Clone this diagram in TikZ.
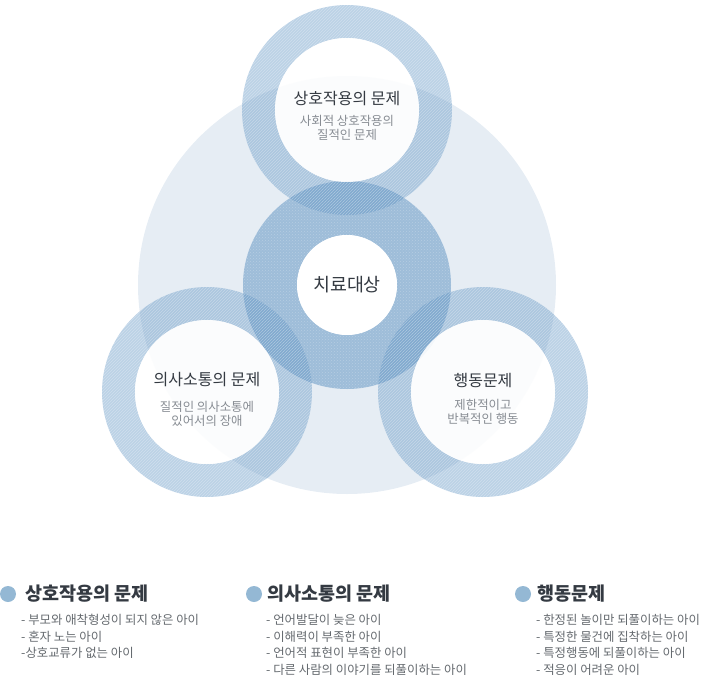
\documentclass[tikz,border=0pt]{standalone}
\usepackage{fontspec}
\setmainfont{Noto Sans CJK KR}
\usetikzlibrary{patterns}
\usetikzlibrary{positioning}

\definecolor{bgblue}{RGB}{230,237,244}
\definecolor{ringblue}{RGB}{88,142,192}
\definecolor{titlegray}{RGB}{52,58,66}
\definecolor{subgray}{RGB}{135,140,147}
\definecolor{itemgray}{RGB}{100,105,110}
\definecolor{dotblue}{RGB}{148,184,212}

\tikzset{
  ringfill/.style={fill=ringblue, fill opacity=0.4, even odd rule},
  hatch/.style={pattern=north east lines, pattern color=white, opacity=0.3, even odd rule},
  crosshatch/.style={pattern=crosshatch dots, pattern color=white, opacity=0.25, even odd rule},
  hole/.style={fill=white, fill opacity=0.88},
  ringtitle/.style={text=titlegray, font=\fontsize{16}{19}\selectfont, inner sep=0pt},
  ringsub/.style={text=subgray, font=\fontsize{12.4}{14.5}\selectfont, align=center, inner sep=0pt},
  legendtitle/.style={text=titlegray, font=\fontsize{18.5}{21}\selectfont\bfseries, anchor=west, inner sep=0pt},
  legenditems/.style={text=itemgray, font=\fontsize{12.4}{16.6}\selectfont, align=left, anchor=north west, inner sep=0pt},
  legenddot/.style={circle, fill=dotblue, minimum size=16pt, inner sep=0pt}
}

\begin{document}
\begin{tikzpicture}[x=1pt, y=-1pt]
    \useasboundingbox (0,0) rectangle (715,683);

    % Centres of the circles
    \coordinate (cbig) at (347,285);
    \coordinate (ctop) at (347,110);
    \coordinate (cleft) at (207,392);
    \coordinate (cright) at (483,392);

    % Background disc
    \fill[bgblue] (cbig) circle (209pt);

    % Rings
    \fill[ringfill, fill opacity=0.5] (cbig) circle (104pt) (cbig) circle (50pt);
    \fill[crosshatch] (cbig) circle (104pt) (cbig) circle (50pt);
    \foreach \c in {ctop, cleft, cright} {
      \fill[ringfill] (\c) circle (105pt) (\c) circle (72pt);
      \fill[hatch] (\c) circle (105pt) (\c) circle (72pt);
    }

    % Holes
    \fill[white] (cbig) circle (50pt);
    \foreach \c in {ctop, cleft, cright} {
      \fill[hole] (\c) circle (72pt);
    }

    % Texts in the rings
    \node[text=titlegray, font=\fontsize{18.4}{21}\selectfont, inner sep=0pt] (care) at (347,285) {치료대상};

    \node[ringtitle] (toptitle) at (347,99) {상호작용의 문제};
    \node[ringsub] (topsub) at (347,128) {사회적 상호작용의\\질적인 문제};

    \node[ringtitle] (lefttitle) at (207,380) {의사소통의 문제};
    \node[ringsub] (leftsub) at (207,414) {질적인 의사소통에\\있어서의 장애};

    \node[ringtitle] (righttitle) at (483,381) {행동문제};
    \node[ringsub] (rightsub) at (483,412) {제한적이고\\반복적인 행동};

    % Legend
    \node[legenddot] (dotA) at (8,594) {};
    \node[legendtitle] (legA) at (25,594) {상호작용의 문제};
    \node[legenditems] (itemsA) at (21,614) {- 부모와 애착형성이 되지 않은 아이\\- 혼자 노는 아이\\-상호교류가 없는 아이};

    \node[legenddot] (dotB) at (254,594) {};
    \node[legendtitle] (legB) at (267,594) {의사소통의 문제};
    \node[legenditems] (itemsB) at (266,614) {- 언어발달이 늦은 아이\\- 이해력이 부족한 아이\\- 언어적 표현이 부족한 아이\\- 다른 사람의 이야기를 되풀이하는 아이};

    \node[legenddot] (dotC) at (523,594) {};
    \node[legendtitle] (legC) at (537,594) {행동문제};
    \node[legenditems] (itemsC) at (536,614) {- 한정된 놀이만 되풀이하는 아이\\- 특정한 물건에 집착하는 아이\\- 특정행동에 되풀이하는 아이\\- 적응이 어려운 아이};
\end{tikzpicture}
\end{document}
